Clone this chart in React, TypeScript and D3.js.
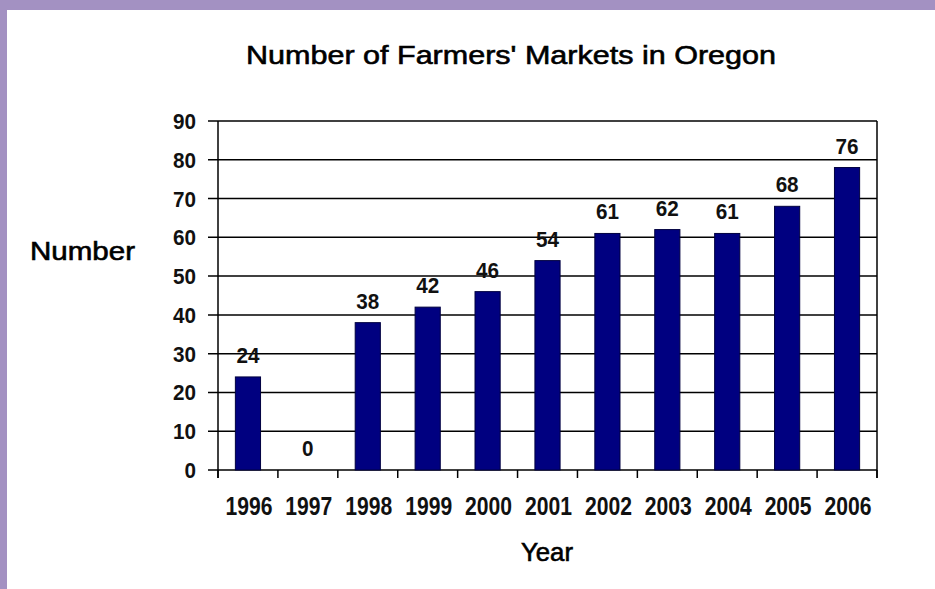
import React from "react";
import * as d3 from "d3";

const years = ["1996", "1997", "1998", "1999", "2000", "2001", "2002", "2003", "2004", "2005", "2006"];
const markets = [24, 0, 38, 42, 46, 54, 61, 62, 61, 68, 78];
const barLabels = ["24", "0", "38", "42", "46", "54", "61", "62", "61", "68", "76"];
const yTicks = [0, 10, 20, 30, 40, 50, 60, 70, 80, 90];

const W = 935;
const H = 589;
const plot = { left: 218, right: 877, top: 121, bottom: 470 };
const sans = "'Liberation Sans', Arial, sans-serif";

export default function App() {
  const x = d3.scaleBand<string>().domain(years).range([plot.left, plot.right]).paddingInner(0.58).paddingOuter(0.29);
  const y = d3.scaleLinear().domain([0, 90]).range([plot.bottom, plot.top]);
  const boundaries = d3.range(years.length + 1).map((i) => plot.left + (plot.right - plot.left) * (i / years.length));

  return (
    <svg width={W} height={H} style={{ position: "fixed", left: 0, top: 0, display: "block" }}>
      <rect x={0} y={0} width={W} height={H} fill="#ffffff" />
      <rect x={0} y={0} width={W} height={10} fill="#a391c2" />
      <rect x={0} y={0} width={7} height={H} fill="#a391c2" />

      <text x={511} y={64} textAnchor="middle" fontFamily={sans} fontSize={26} textLength={530} lengthAdjust="spacingAndGlyphs" fill="#000" stroke="#000" strokeWidth={0.6}>
        Number of Farmers' Markets in Oregon
      </text>

      {yTicks.map((t) => (
        <g key={t}>
          <line x1={208} x2={plot.right} y1={y(t)} y2={y(t)} stroke="#000" strokeWidth={1.5} />
          <text x={196} y={y(t) + 8} textAnchor="end" fontFamily={sans} fontWeight="bold" fontSize={22} textLength={String(t).length * 11.5} lengthAdjust="spacingAndGlyphs" fill="#111">
            {t}
          </text>
        </g>
      ))}

      <line x1={plot.left} x2={plot.left} y1={plot.top} y2={plot.bottom + 8} stroke="#000" strokeWidth={1.5} />
      <line x1={plot.right} x2={plot.right} y1={plot.top} y2={plot.bottom + 8} stroke="#000" strokeWidth={1.5} />
      {boundaries.map((bx, i) => (
        <line key={i} x1={bx} x2={bx} y1={plot.bottom} y2={plot.bottom + 8} stroke="#000" strokeWidth={1.5} />
      ))}

      {years.map((yr, i) => (
        <g key={yr}>
          {markets[i] > 0 && (
            <rect
              x={x(yr)!}
              y={y(markets[i])}
              width={x.bandwidth()}
              height={plot.bottom - y(markets[i])}
              fill="#000080"
              stroke="#000040"
              strokeWidth={1}
            />
          )}
          <text x={x(yr)! + x.bandwidth() / 2} y={y(markets[i]) - 14} textAnchor="middle" fontFamily={sans} fontWeight="bold" fontSize={22} textLength={barLabels[i].length * 11.5} lengthAdjust="spacingAndGlyphs" fill="#111">
            {barLabels[i]}
          </text>
          <text x={x(yr)! + x.bandwidth() / 2 + 1} y={515} textAnchor="middle" fontFamily={sans} fontWeight="bold" fontSize={25} textLength={47} lengthAdjust="spacingAndGlyphs" fill="#111">
            {yr}
          </text>
        </g>
      ))}

      <text x={30} y={260} fontFamily={sans} fontSize={25} textLength={105} lengthAdjust="spacingAndGlyphs" fill="#000" stroke="#000" strokeWidth={0.6}>
        Number
      </text>
      <text x={547} y={561} textAnchor="middle" fontFamily={sans} fontSize={25} textLength={52} lengthAdjust="spacingAndGlyphs" fill="#000" stroke="#000" strokeWidth={0.6}>
        Year
      </text>
    </svg>
  );
}
